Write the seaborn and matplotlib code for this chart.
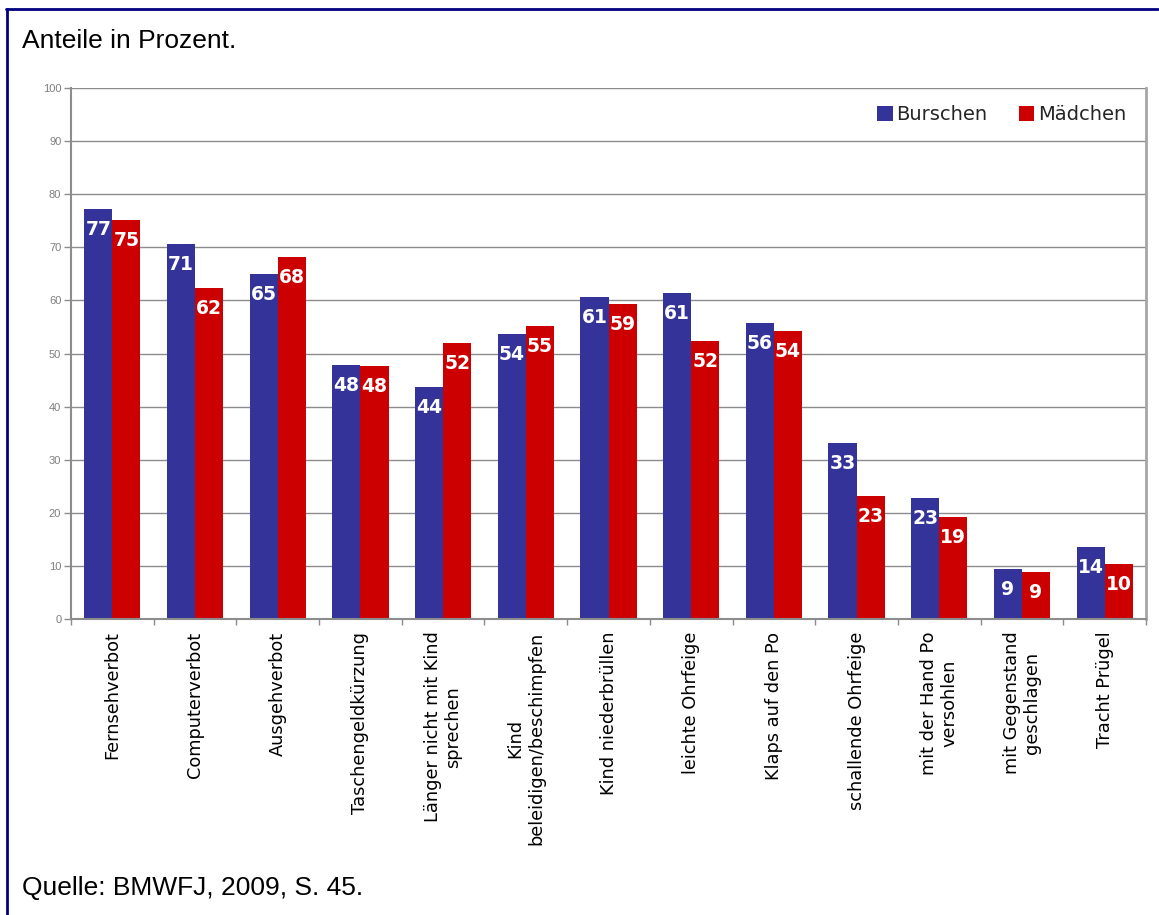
import numpy as np
import pandas as pd
import matplotlib
matplotlib.use("Agg")
import matplotlib.pyplot as plt
from matplotlib.lines import Line2D
import seaborn as sns

categories = [
    "Fernsehverbot", "Computerverbot", "Ausgehverbot", "Taschengeldkürzung",
    "Länger nicht mit Kind\nsprechen", "Kind\nbeleidigen/beschimpfen",
    "Kind niederbrüllen", "leichte Ohrfeige", "Klaps auf den Po",
    "schallende Ohrfeige", "mit der Hand Po\nversohlen",
    "mit Gegenstand\ngeschlagen", "Tracht Prügel",
]
burschen = [77.2, 70.6, 65.0, 47.8, 43.7, 53.7, 60.6, 61.4, 55.7, 33.1, 22.8, 9.4, 13.6]
maedchen = [75.1, 62.3, 68.2, 47.6, 52.0, 55.2, 59.3, 52.4, 54.2, 23.2, 19.2, 8.9, 10.4]
groups = ["Burschen", "Mädchen"]
yticks = [0, 10, 20, 30, 40, 50, 60, 70, 80, 90, 100]

BLUE = "#333399"
RED = "#CC0000"

df = pd.DataFrame({
    "Kategorie": categories * 2,
    "Wert": burschen + maedchen,
    "Gruppe": [groups[0]] * len(categories) + [groups[1]] * len(categories),
})

sns.set_theme(style="white")
plt.rcParams["font.family"] = ["DejaVu Sans"]

W, H = 1159, 915
fig = plt.figure(figsize=(W / 100, H / 100), dpi=100)
ax = fig.add_axes([71 / W, 1 - 619 / H, (1146 - 71) / W, (619 - 88) / H])

sns.barplot(data=df, x="Kategorie", y="Wert", hue="Gruppe", hue_order=groups,
            palette=[BLUE, RED], width=0.68, saturation=1, ax=ax, errorbar=None,
            linewidth=0, edgecolor="none")

# value labels inside bars
for cont in ax.containers:
    for bar in cont:
        h = bar.get_height()
        ax.annotate(f"{h:.0f}", (bar.get_x() + bar.get_width() / 2, h),
                    xytext=(0, -26), textcoords="offset pixels",
                    ha="center", va="baseline", color="white",
                    fontsize=13.5, fontweight="bold")

ax.set_ylim(0, 100)
ax.set_xlim(-0.5, len(categories) - 0.5)
ax.set_yticks(yticks)
ax.set_yticklabels([str(t) for t in yticks], family="Liberation Sans",
                   fontsize=8, color="#7f7f7f")
ax.yaxis.grid(True, color="#8c8c8c", lw=1)
ax.set_axisbelow(True)
ax.set_xlabel("")
ax.set_ylabel("")

ax.set_xticks(range(len(categories)))
ax.set_xticklabels(categories, rotation=90, fontsize=12.8, color="black",
                   ha="center", va="top", multialignment="center")
ax.set_xticks(np.arange(-0.5, len(categories), 1), minor=True)
ax.tick_params(axis="x", which="major", length=0, pad=9)
ax.tick_params(axis="x", which="minor", length=4, width=1, color="#8c8c8c",
               direction="out", bottom=True)
ax.tick_params(axis="y", which="major", length=5, width=1, color="#8c8c8c",
               direction="out", left=True, pad=2)

for side in ["left", "bottom"]:
    ax.spines[side].set_color("#8c8c8c")
    ax.spines[side].set_linewidth(1.5)
ax.spines["top"].set_visible(False)
ax.spines["right"].set_color("#a6a6a6")
ax.spines["right"].set_linewidth(2)

leg = ax.legend(ncol=2, frameon=False, fontsize=14, loc="center right",
                bbox_to_anchor=(1126 / W, 1 - 115 / H), bbox_transform=fig.transFigure,
                handlelength=0.78, handleheight=0.78, handletextpad=0.2,
                columnspacing=1.6, borderpad=0, borderaxespad=0)

fig.text(22 / W, 1 - 48 / H, "Anteile in Prozent.", family="Liberation Sans",
         fontsize=19, va="baseline", ha="left", color="black")
fig.text(22 / W, 1 - 895 / H, "Quelle: BMWFJ, 2009, S. 45.", family="Liberation Sans",
         fontsize=19, va="baseline", ha="left", color="black")

fig.add_artist(Line2D([6.5 / W, 6.5 / W], [0, 1 - 8.5 / H], transform=fig.transFigure,
                      color="#000080", lw=2))
fig.add_artist(Line2D([5.5 / W, 1158 / W], [1 - 8.5 / H, 1 - 8.5 / H], transform=fig.transFigure,
                      color="#000080", lw=2))

fig.savefig("out.png", dpi=100)
